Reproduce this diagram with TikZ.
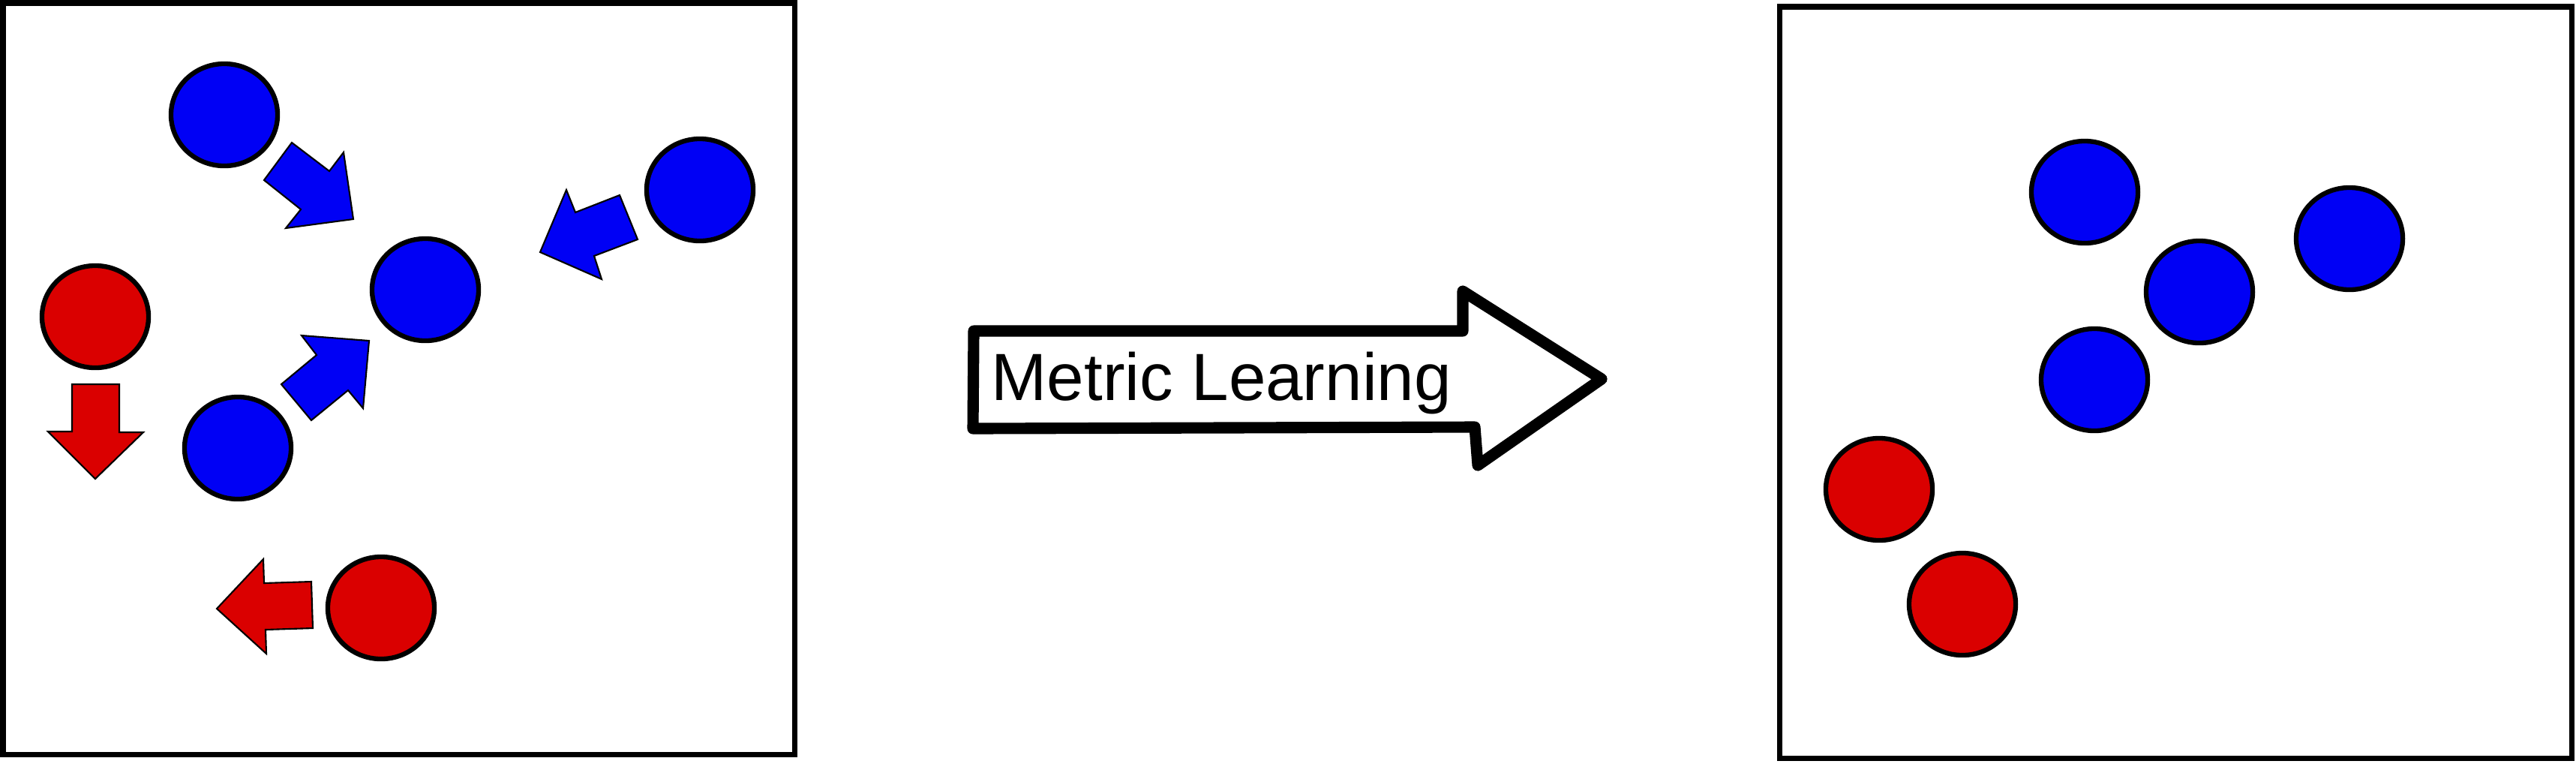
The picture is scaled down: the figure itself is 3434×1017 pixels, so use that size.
\documentclass[tikz,border=0pt]{standalone}
\usepackage{fontspec}
\setsansfont{Liberation Sans}
\usetikzlibrary{shapes.geometric}
\definecolor{bleu}{RGB}{0,0,245}
\definecolor{rouge}{RGB}{218,0,0}
\tikzset{
  pt/.style = {ellipse, draw=black, line width=1.8pt, inner sep=0pt,
    minimum width=1.42cm, minimum height=1.36cm},% point
  pt_b/.style = {pt, fill=bleu},% point bleu
  pt_r/.style = {pt, fill=rouge},% point rouge
  fl_b/.style = {draw=black, fill=bleu, line width=0.6pt},% fleche bleue
  fl_r/.style = {draw=black, fill=rouge, line width=0.6pt},% fleche rouge
  cadre/.style = {draw=black, line width=2pt},% cadre
  grande_fl/.style = {draw=black, line width=4.3pt, line join=round}% grande fleche
}
\begin{document}
\begin{tikzpicture}[x=0.01cm, y=-0.01cm]
\useasboundingbox (0,0) rectangle (3434,1017);
% avant
\draw [cadre] (4,4) rectangle (1059,1005);
\node [pt_b] (b1) at (299,153) {};
\node [pt_b] (b2) at (567,386) {};
\node [pt_b] (b3) at (933,253) {};
\node [pt_b] (b4) at (317,597) {};
\node [pt_r] (r1) at (127,422) {};
\node [pt_r] (r2) at (508,810) {};
\draw [fl_b] (389,190) -- (439,228) -- (458,203) -- (471,292) -- (381,304)
  -- (401,279) -- (352,240) -- cycle;
\draw [fl_b] (826,260) -- (850,319) -- (792,341) -- (802,372) -- (720,336)
  -- (755,253) -- (767,283) -- cycle;
\draw [fl_b] (375,512) -- (422,473) -- (402,447) -- (492,454) -- (484,544)
  -- (464,520) -- (415,560) -- cycle;
\draw [fl_r] (96,512) -- (159,512) -- (159,576) -- (191,576) -- (127,638)
  -- (64,575) -- (96,575) -- cycle;
\draw [fl_r] (415,775) -- (417,837) -- (354,839) -- (355,871) -- (289,811)
  -- (351,745) -- (352,777) -- cycle;
% metric learning
\draw [grande_fl] (1298,441) -- (1950,441) -- (1950,388) -- (2135,505)
  -- (1970,620) -- (1966,569) -- (1297,571) -- cycle;
\node [anchor=base west, inner sep=0pt,
  font=\fontsize{25.3pt}{30pt}\selectfont\sffamily] (ml) at (1321,533)
  {Metric Learning};
% apres
\draw [cadre] (2372,9) rectangle (3428,1010);
\node [pt_b] (b5) at (2779,256) {};
\node [pt_b] (b6) at (2932,389) {};
\node [pt_b] (b7) at (3132,318) {};
\node [pt_b] (b8) at (2792,506) {};
\node [pt_r] (r3) at (2505,652) {};
\node [pt_r] (r4) at (2616,805) {};
\end{tikzpicture}
\end{document}
